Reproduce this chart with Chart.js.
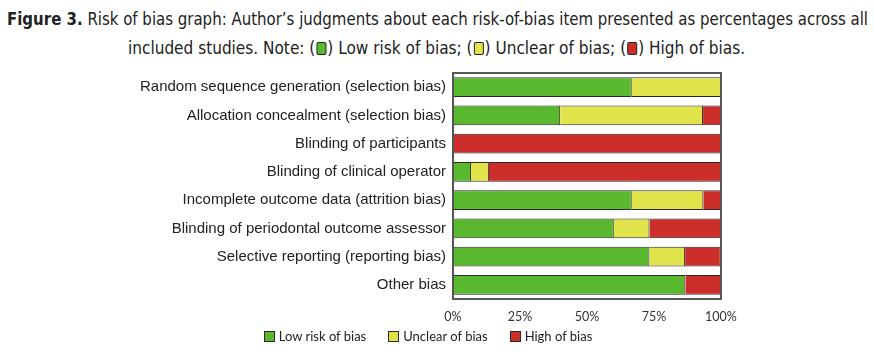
<!DOCTYPE html>
<html><head><meta charset="utf-8">
<script src="https://cdn.jsdelivr.net/npm/chart.js@4"></script>
<style>
html,body{margin:0;padding:0;background:#fff;}
#wrap{position:relative;width:874px;height:355px;overflow:hidden;}
.tl{position:absolute;white-space:nowrap;font-family:"Liberation Sans Narrow","DejaVu Sans Condensed","Liberation Sans",sans-serif;font-size:17px;color:#222;transform-origin:0 0;line-height:1;}
.tl b{font-weight:bold;}
.mk{display:inline-block;width:8px;height:11px;border:1.5px solid #222;border-radius:2px;vertical-align:-1px;margin:0 1px;}
canvas{position:absolute;left:0;top:0;}
#lg{position:absolute;top:328px;left:0;width:856px;display:flex;justify-content:center;gap:22px;font-family:Lato,"Open Sans",sans-serif;font-size:13px;color:#222;line-height:16px;}
#lg .it{display:flex;align-items:center;gap:4px;}
#lg .sw{width:9px;height:9px;border:1px solid #2a2a2a;}
</style></head>
<body><div id="wrap">
<div class="tl" id="t1" data-w="861" data-x="7" style="top:11px;"><b>Figure 3.</b> Risk of bias graph: Author’s judgments about each risk-of-bias item presented as percentages across all</div>
<div class="tl" id="t2" data-w="617" data-x="128" style="top:40px;">included studies. Note: (<span class="mk" style="background:#5ab82f"></span>) Low risk of bias; (<span class="mk" style="background:#e0e34a"></span>) Unclear of bias; (<span class="mk" style="background:#cc2f2a"></span>) High of bias.</div>
<canvas id="c" width="874" height="355"></canvas>
<div id="lg"></div>
</div>
<script>
const categories = [
  "Random sequence generation (selection bias)",
  "Allocation concealment (selection bias)",
  "Blinding of participants",
  "Blinding of clinical operator",
  "Incomplete outcome data (attrition bias)",
  "Blinding of periodontal outcome assessor",
  "Selective reporting (reporting bias)",
  "Other bias"
];
const lowRisk  = [66.7, 40.0, 0,   6.7, 66.7, 60.0, 73.3, 86.7];
const unclear  = [33.3, 53.3, 0,   6.7, 26.7, 13.3, 13.3, 0];
const highRisk = [0,    6.7, 100, 86.7,  6.7, 26.7, 13.3, 13.3];
const seriesNames = ["Low risk of bias", "Unclear of bias", "High of bias"];
const seriesColors = ['#5ab82f', '#e0e34a', '#cc2f2a'];
const xTicks = [0, 25, 50, 75, 100];

// fit title lines
document.querySelectorAll('.tl').forEach(el=>{
  const w = el.getBoundingClientRect().width;
  const target = +el.dataset.w;
  el.style.left = el.dataset.x + 'px';
  el.style.transform = 'scaleX(' + (target / w) + ')';
});

const boxPlugin = {
  id: 'box',
  afterDatasetsDraw(chart){
    const a = chart.chartArea, ctx = chart.ctx;
    ctx.save();
    ctx.strokeStyle = '#555';
    ctx.lineWidth = 2;
    ctx.strokeRect(a.left, a.top, a.right - a.left, a.bottom - a.top);
    ctx.restore();
  }
};

const chart = new Chart(document.getElementById('c'), {
  type: 'bar',
  data: {
    labels: categories,
    datasets: [lowRisk, unclear, highRisk].map((d, i) => ({
      label: seriesNames[i], data: d, backgroundColor: seriesColors[i], borderColor: '#2a2a2a', borderWidth: 1
    }))
  },
  options: {
    indexAxis: 'y',
    responsive: false,
    animation: false,
    layout: {padding: {left: 135, right: 153, top: 73, bottom: 26}},
    datasets: {bar: {barPercentage: 0.7, categoryPercentage: 1}},
    scales: {
      x: {
        stacked: true, min: 0, max: 100,
        afterBuildTicks(s){ s.ticks = xTicks.map(v => ({value: v})); },
        afterFit(s){ s.height = 30; },
        grid: {display: false, drawTicks: false},
        border: {display: false},
        ticks: {padding: 10, color: '#333', font: {family: 'Lato, "Open Sans", sans-serif', size: 12.5},
          callback: v => v + '%'}
      },
      y: {
        stacked: true,
        afterFit(s){ s.width = 318; },
        grid: {display: false, drawTicks: false},
        border: {display: false},
        ticks: {padding: 7, color: '#222', font: {family: '"Liberation Sans", Arial, sans-serif', size: 15}}
      }
    },
    plugins: {
      legend: {display: false},
      tooltip: {enabled: false}
    }
  },
  plugins: [boxPlugin]
});

// HTML legend built from the chart's datasets
const lg = document.getElementById('lg');
chart.data.datasets.forEach(ds => {
  const it = document.createElement('div'); it.className = 'it';
  const sw = document.createElement('span'); sw.className = 'sw'; sw.style.background = ds.backgroundColor;
  const tx = document.createElement('span'); tx.textContent = ds.label;
  it.appendChild(sw); it.appendChild(tx); lg.appendChild(it);
});
</script>
</body></html>
